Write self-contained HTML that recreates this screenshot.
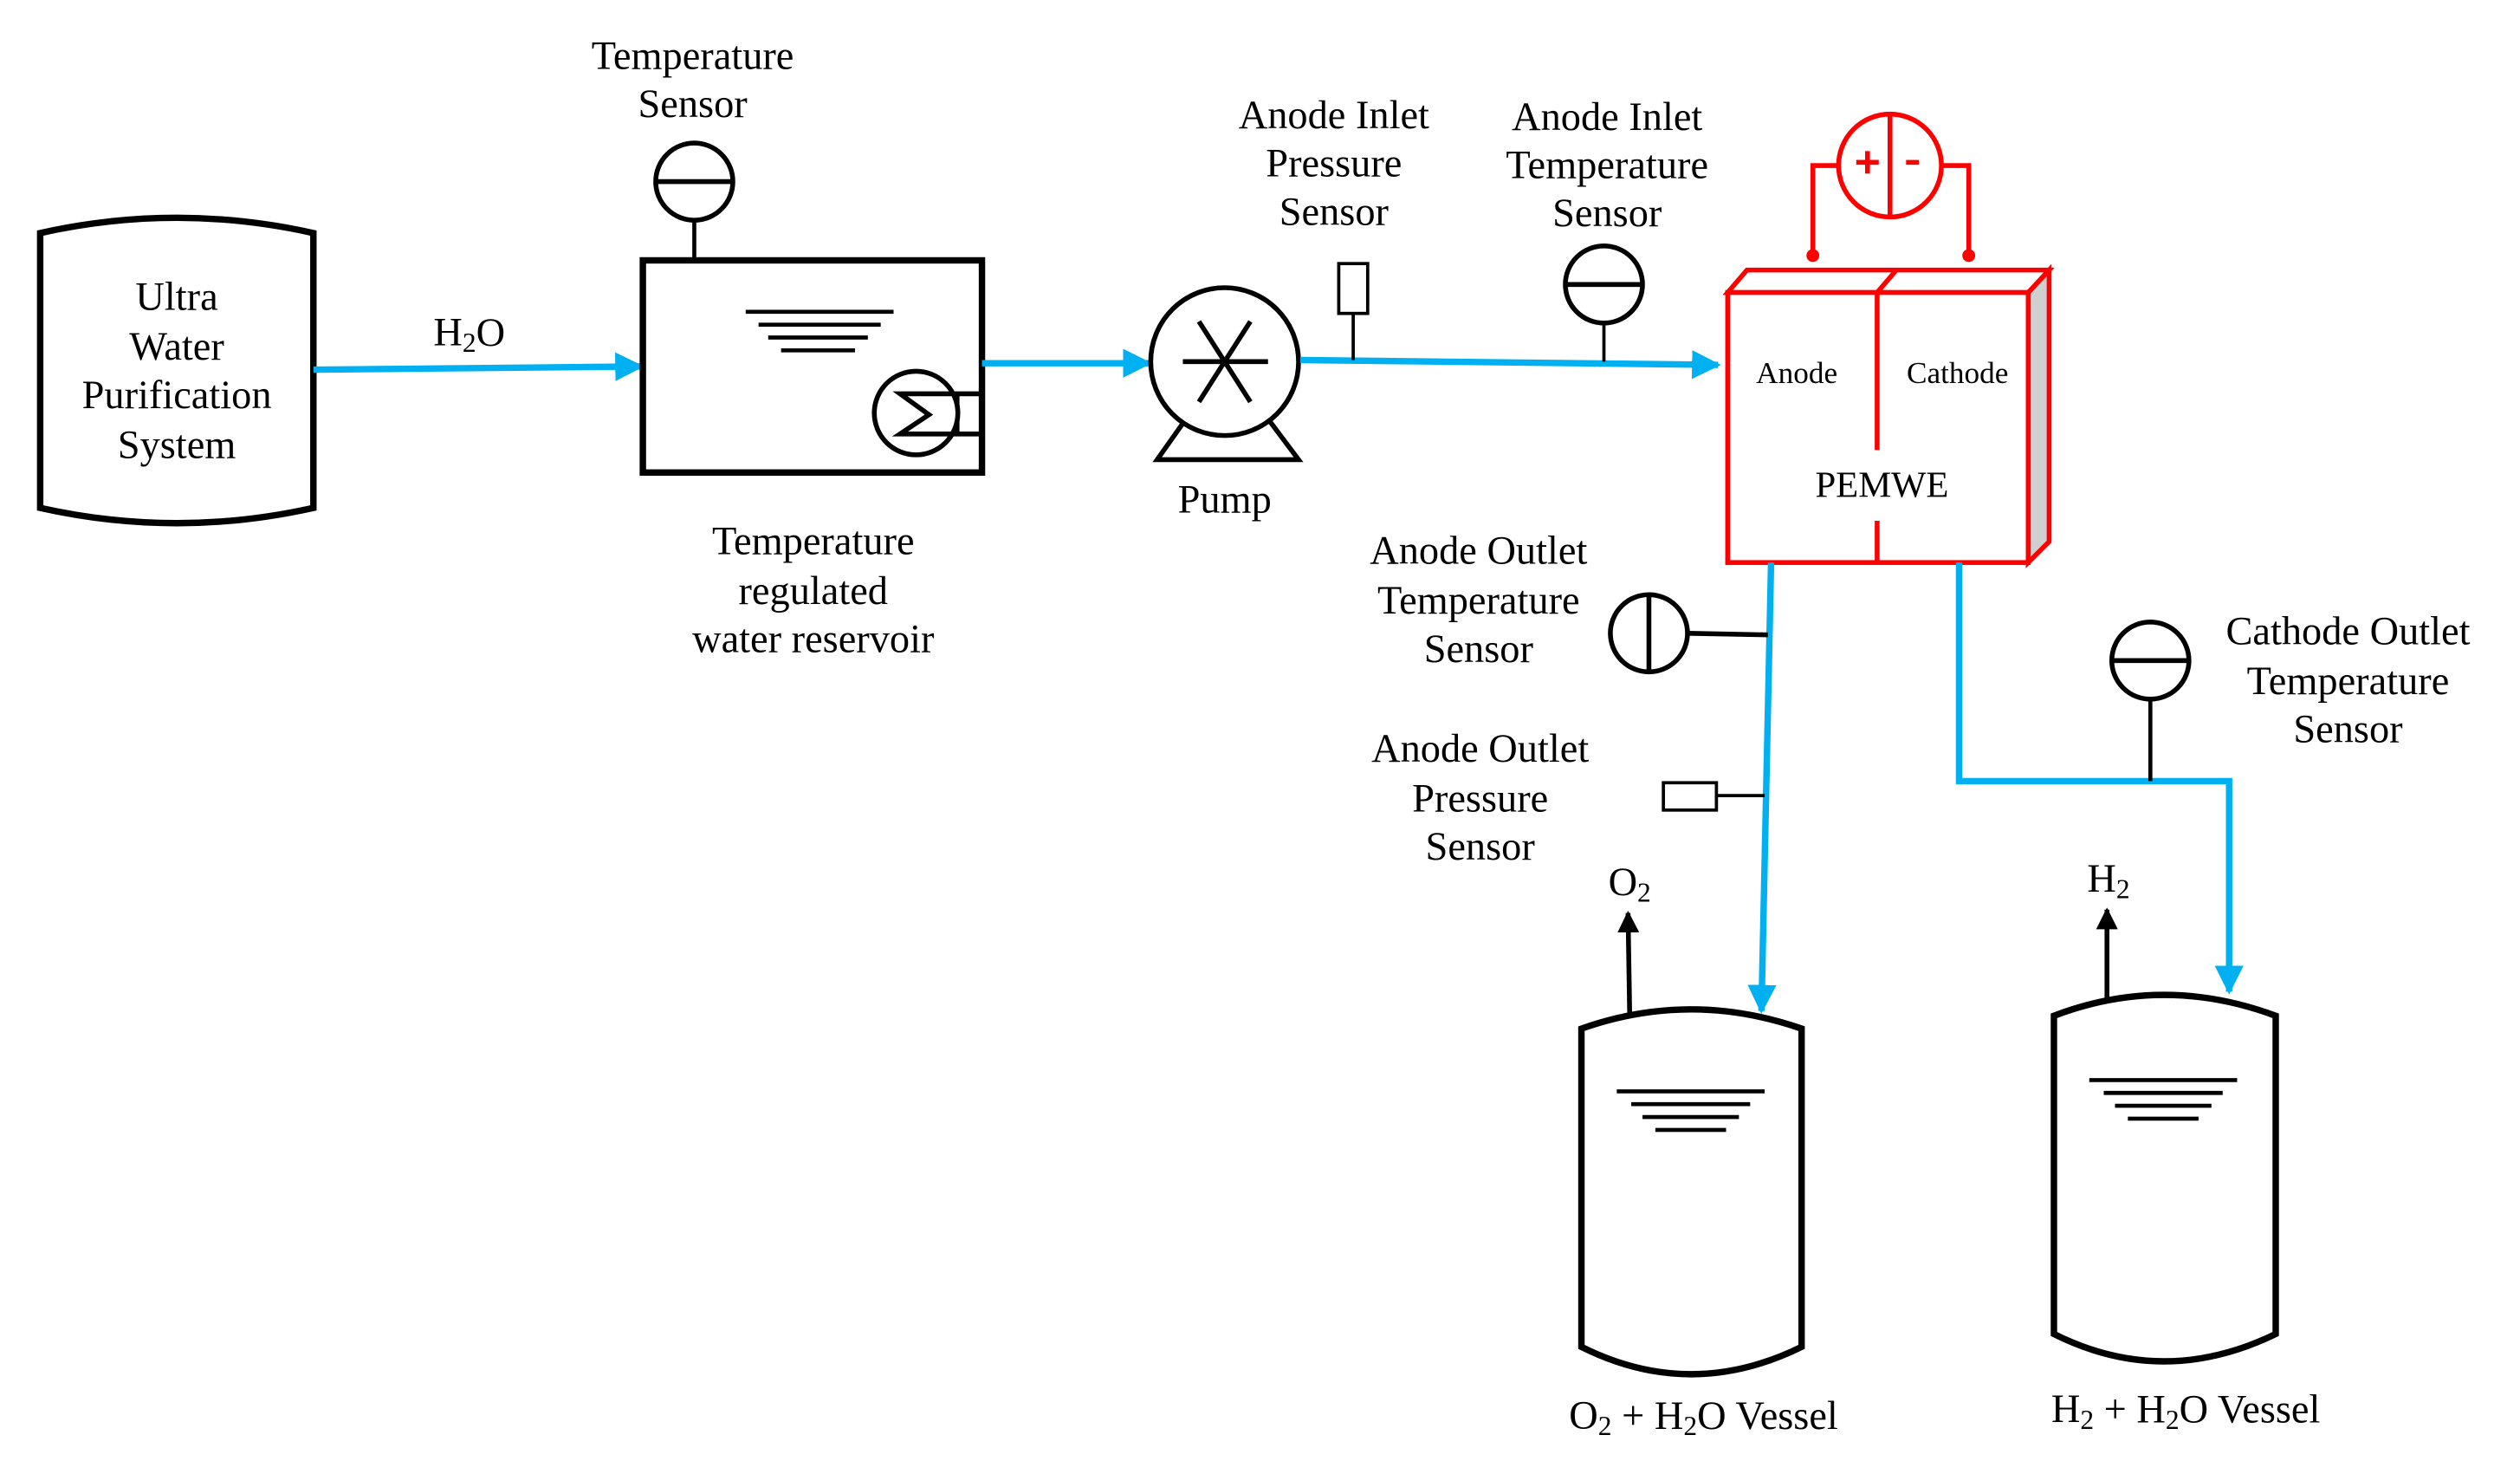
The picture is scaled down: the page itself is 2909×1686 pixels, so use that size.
<!DOCTYPE html>
<html><head><meta charset="utf-8"><style>
html,body{margin:0;padding:0;background:#fff}
svg{display:block}
text{font-family:"Liberation Serif",serif;fill:#000;dominant-baseline:central;text-anchor:middle}
</style></head><body>
<svg width="2909" height="1686" viewBox="0 0 1568 909" preserveAspectRatio="none" xmlns="http://www.w3.org/2000/svg">
<defs>
<marker id="ab" viewBox="0 0 10 10" refX="9" refY="5" markerWidth="4.5" markerHeight="4.5" orient="auto"><path d="M0,0 L10,5 L0,10 z" fill="#00B0F0"/></marker>
<marker id="ak" viewBox="0 0 10 10" refX="9" refY="5" markerWidth="4.5" markerHeight="4.5" orient="auto"><path d="M0,0 L10,5 L0,10 z" fill="#000"/></marker>
</defs>
<g font-size="25">
<path d="M25,145 Q110,126 195,145 L195,316 Q110,335 25,316 Z" fill="none" stroke="#000" stroke-width="4"/>
<text x="110" y="185">Ultra</text><text x="110" y="216">Water</text><text x="110" y="246">Purification</text><text x="110" y="277">System</text>
<text x="292" y="207">H<tspan font-size="17" dy="6">2</tspan><tspan dy="-6">O</tspan></text>
<line x1="195" y1="230" x2="399" y2="228" stroke="#00B0F0" stroke-width="4" marker-end="url(#ab)"/>
<text x="431" y="35">Temperature</text><text x="431" y="65">Sensor</text>
<circle cx="432" cy="113" r="24" fill="#fff" stroke="#000" stroke-width="3"/>
<line x1="408" y1="113" x2="456" y2="113" stroke="#000" stroke-width="3"/>
<line x1="432" y1="137" x2="432" y2="162" stroke="#000" stroke-width="2.5"/>
<rect x="400" y="162" width="211" height="132" fill="none" stroke="#000" stroke-width="4"/>
<g stroke="#000" stroke-width="2.5"><line x1="464" y1="194" x2="556" y2="194"/><line x1="472" y1="202" x2="548" y2="202"/><line x1="478" y1="210" x2="540" y2="210"/><line x1="486" y1="218" x2="532" y2="218"/></g>
<circle cx="570" cy="257" r="26" fill="none" stroke="#000" stroke-width="3"/>
<path d="M611,245 L560,245 L578,258 L560,270 L611,270" fill="none" stroke="#000" stroke-width="3"/>
<line x1="596" y1="245" x2="596" y2="270" stroke="#000" stroke-width="2"/>
<text x="506" y="337">Temperature</text><text x="506" y="368">regulated</text><text x="506" y="398">water reservoir</text>
<line x1="611" y1="226" x2="715" y2="226" stroke="#00B0F0" stroke-width="4" marker-end="url(#ab)"/>
<path d="M737,262 L720,286 L808,286 L790,262" fill="none" stroke="#000" stroke-width="3"/>
<circle cx="762" cy="225" r="46" fill="#fff" stroke="#000" stroke-width="3"/>
<g stroke="#000" stroke-width="3"><line x1="736" y1="225" x2="789" y2="225"/><line x1="746" y1="200" x2="778" y2="250"/><line x1="778" y1="200" x2="746" y2="250"/></g>
<text x="762" y="311">Pump</text>
<line x1="809" y1="224" x2="1069" y2="227" stroke="#00B0F0" stroke-width="4" marker-end="url(#ab)"/>
<text x="830" y="72">Anode Inlet</text><text x="830" y="102">Pressure</text><text x="830" y="132">Sensor</text>
<rect x="833" y="164" width="18" height="31" fill="#fff" stroke="#000" stroke-width="2"/>
<line x1="842" y1="195" x2="842" y2="224" stroke="#000" stroke-width="2"/>
<text x="1000" y="73">Anode Inlet</text><text x="1000" y="103">Temperature</text><text x="1000" y="133">Sensor</text>
<circle cx="998" cy="177" r="24" fill="#fff" stroke="#000" stroke-width="3"/>
<line x1="974" y1="177" x2="1022" y2="177" stroke="#000" stroke-width="3"/>
<line x1="998" y1="201" x2="998" y2="225" stroke="#000" stroke-width="2"/>
<path d="M1262,182 L1275,168 L1275,337 L1262,350 Z" fill="#d0d0d0" stroke="#f00" stroke-width="3"/>
<path d="M1075,182 L1087,168 L1275,168 L1262,182 Z" fill="#fff" stroke="#f00" stroke-width="3"/>
<rect x="1075" y="182" width="187" height="168" fill="#fff" stroke="#f00" stroke-width="3"/>
<g stroke="#f00" stroke-width="3"><line x1="1168" y1="182" x2="1180" y2="168"/><line x1="1168" y1="182" x2="1168" y2="280"/><line x1="1168" y1="324" x2="1168" y2="350"/></g>
<text x="1118" y="232" font-size="19">Anode</text><text x="1218" y="232" font-size="19">Cathode</text>
<text x="1171" y="302" font-size="23">PEMWE</text>
<g stroke="#f00" stroke-width="3" fill="none">
<circle cx="1176" cy="103" r="32"/><line x1="1176" y1="71" x2="1176" y2="135"/>
<path d="M1144,103 L1128,103 L1128,158"/><path d="M1208,103 L1225,103 L1225,158"/>
<line x1="1155" y1="101" x2="1169" y2="101"/><line x1="1162" y1="94" x2="1162" y2="108"/><line x1="1186" y1="101" x2="1194" y2="101"/>
</g>
<circle cx="1128" cy="159" r="4" fill="#f00"/><circle cx="1225" cy="159" r="4" fill="#f00"/>
<line x1="1102" y1="350" x2="1096" y2="629" stroke="#00B0F0" stroke-width="4" marker-end="url(#ab)"/>
<path d="M1219,350 L1219,486 L1387,486 L1387,617" fill="none" stroke="#00B0F0" stroke-width="4" marker-end="url(#ab)"/>
<text x="920" y="343">Anode Outlet</text><text x="920" y="374">Temperature</text><text x="920" y="404">Sensor</text>
<circle cx="1026" cy="394" r="24" fill="#fff" stroke="#000" stroke-width="3"/>
<line x1="1026" y1="370" x2="1026" y2="418" stroke="#000" stroke-width="3"/>
<line x1="1050" y1="394" x2="1100" y2="395" stroke="#000" stroke-width="3"/>
<text x="921" y="466">Anode Outlet</text><text x="921" y="497">Pressure</text><text x="921" y="527">Sensor</text>
<rect x="1035" y="487" width="33" height="17" fill="#fff" stroke="#000" stroke-width="2"/>
<line x1="1068" y1="495" x2="1098" y2="495" stroke="#000" stroke-width="2"/>
<text x="1461" y="393">Cathode Outlet</text><text x="1461" y="424">Temperature</text><text x="1461" y="454">Sensor</text>
<circle cx="1338" cy="411" r="24" fill="#fff" stroke="#000" stroke-width="3"/>
<line x1="1314" y1="411" x2="1362" y2="411" stroke="#000" stroke-width="3"/>
<line x1="1338" y1="435" x2="1338" y2="486" stroke="#000" stroke-width="2.5"/>
<path d="M984,640 Q1052,616 1121,640 L1121,838 Q1052,872 984,838 Z" fill="none" stroke="#000" stroke-width="4"/>
<g stroke="#000" stroke-width="2.5"><line x1="1006" y1="679" x2="1098" y2="679"/><line x1="1015" y1="687" x2="1089" y2="687"/><line x1="1022" y1="695" x2="1082" y2="695"/><line x1="1030" y1="703" x2="1074" y2="703"/></g>
<line x1="1014" y1="630" x2="1013" y2="568" stroke="#000" stroke-width="3" marker-end="url(#ak)"/>
<text x="1014" y="549">O<tspan font-size="17" dy="6">2</tspan></text>
<text x="1060" y="881">O<tspan font-size="17" dy="6">2</tspan><tspan dy="-6"> + H</tspan><tspan font-size="17" dy="6">2</tspan><tspan dy="-6">O Vessel</tspan></text>
<path d="M1278,632 Q1346,606 1416,632 L1416,830 Q1346,864 1278,830 Z" fill="none" stroke="#000" stroke-width="4"/>
<g stroke="#000" stroke-width="2.5"><line x1="1300" y1="672" x2="1392" y2="672"/><line x1="1309" y1="680" x2="1383" y2="680"/><line x1="1316" y1="688" x2="1376" y2="688"/><line x1="1324" y1="696" x2="1368" y2="696"/></g>
<line x1="1311" y1="624" x2="1311" y2="566" stroke="#000" stroke-width="3" marker-end="url(#ak)"/>
<text x="1312" y="547">H<tspan font-size="17" dy="6">2</tspan></text>
<text x="1360" y="877">H<tspan font-size="17" dy="6">2</tspan><tspan dy="-6"> + H</tspan><tspan font-size="17" dy="6">2</tspan><tspan dy="-6">O Vessel</tspan></text>
</g>
</svg>
</body></html>
